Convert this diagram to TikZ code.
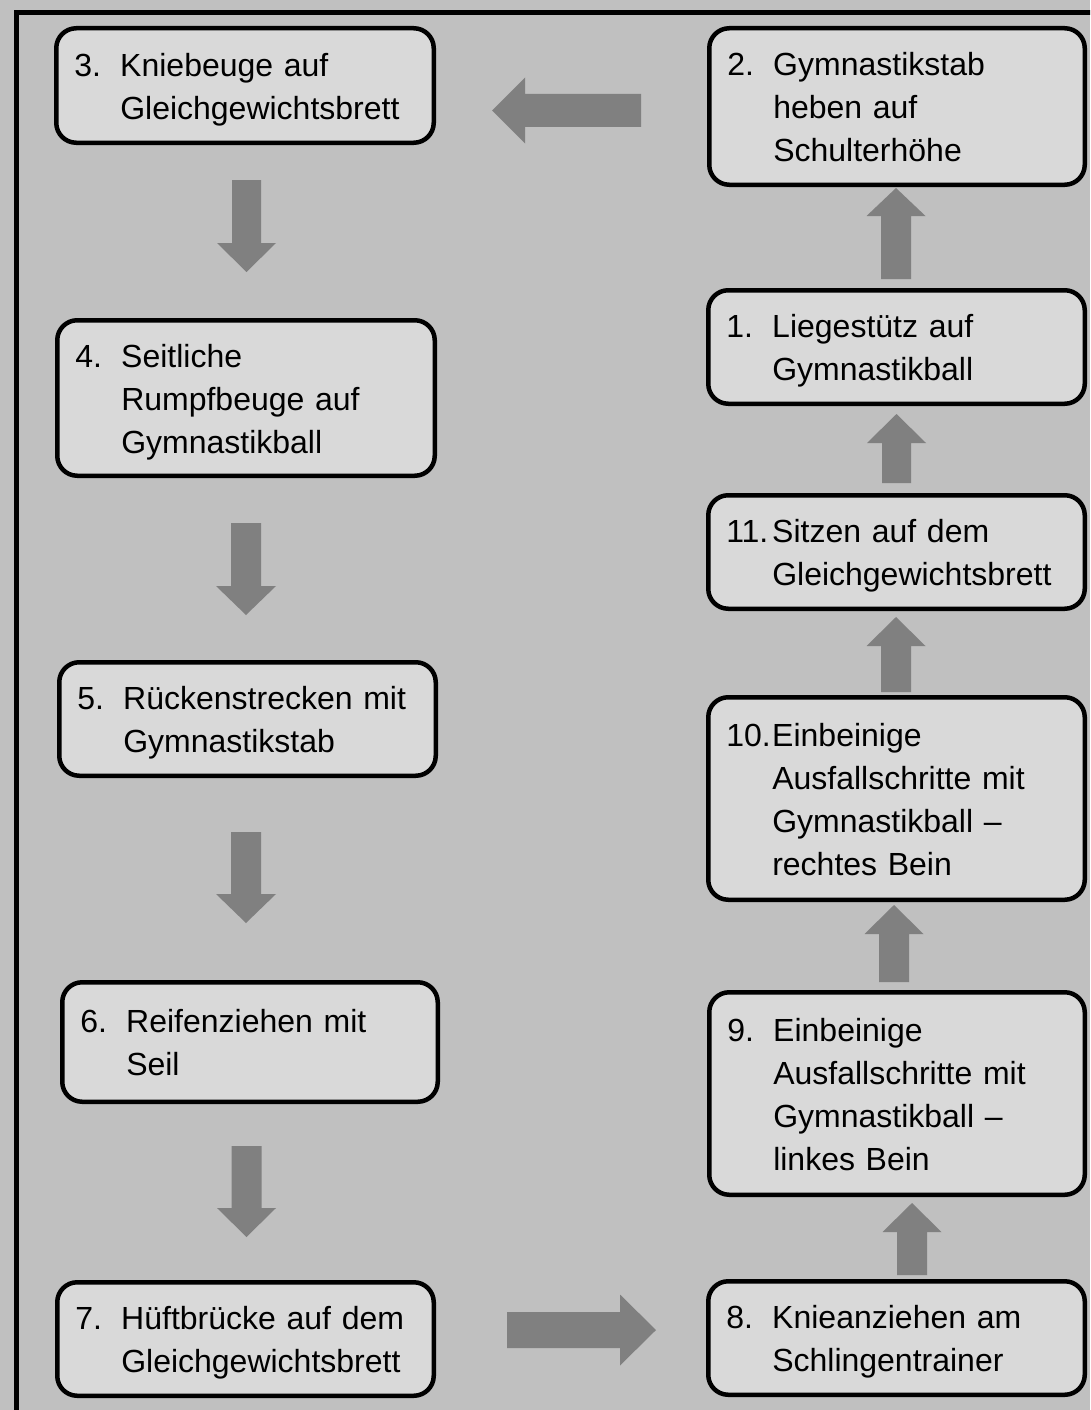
\documentclass[tikz,border=0pt]{standalone}
\usepackage{fontspec}
\setmainfont{Liberation Sans}
\definecolor{bg}{HTML}{C0C0C0}
\definecolor{boxfill}{HTML}{D9D9D9}
\definecolor{arr}{HTML}{808080}
\newcommand{\nm}[1]{\rule{0pt}{32pt}\makebox[46pt][l]{#1}}
\newcommand{\ind}{\hspace*{46pt}}
\newcommand{\ls}{\rule[-7.4pt]{0pt}{7.4pt}}
% vertical block arrow: cx, tail y, head-base y, tip y, shaft half width, head half width
\newcommand{\vbarrow}[6]{%
  \fill[arr] (#1-#5,#2) -- (#1+#5,#2) -- (#1+#5,#3) -- (#1+#6,#3) -- (#1,#4)
    -- (#1-#6,#3) -- (#1-#5,#3) -- cycle;}
% horizontal block arrow: cy, tail x, head-base x, tip x, shaft half width, head half width
\newcommand{\hbarrow}[6]{%
  \fill[arr] (#2,#1-#5) -- (#3,#1-#5) -- (#3,#1-#6) -- (#4,#1) -- (#3,#1+#6)
    -- (#3,#1+#5) -- (#2,#1+#5) -- cycle;}
\tikzset{
  stepbox/.style={draw=black, line width=4.5pt, rounded corners=20pt, fill=boxfill,
    inner xsep=18pt, inner ysep=0pt, align=left, anchor=center,
    font=\fontsize{32}{43}\selectfont}
}
\begin{document}
\begin{tikzpicture}[x=1pt,y=-1pt]
\useasboundingbox (0,0) rectangle (1090,1410);
\fill[bg] (0,0) rectangle (1090,1410);
\begin{scope}
\clip (0,0) rectangle (1090,1410);
\draw[line width=5pt] (16.5,12.5) rectangle (1120,1440);
\end{scope}

% left column
\node[stepbox, minimum width=377.5pt, minimum height=114.5pt, text width=341.5pt] (b3) at (245,85.5)
  {\nm{3.}Kniebeuge auf\\\ind Gleichgewichtsbrett\ls};
\node[stepbox, minimum width=377.5pt, minimum height=155.5pt, text width=341.5pt] (b4) at (246,398)
  {\nm{4.}Seitliche\\\ind Rumpfbeuge auf\\\ind Gymnastikball\ls};
\node[stepbox, minimum width=376.5pt, minimum height=113.5pt, text width=340.5pt] (b5) at (247.5,719)
  {\nm{5.}Rückenstrecken mit\\\ind Gymnastikstab\ls};
\node[stepbox, minimum width=375.5pt, minimum height=119.5pt, text width=339.5pt] (b6) at (250,1042)
  {\nm{6.}Reifenziehen mit\\\ind Seil\ls};
\node[stepbox, minimum width=376.5pt, minimum height=113.5pt, text width=340.5pt] (b7) at (245.5,1339)
  {\nm{7.}Hüftbrücke auf dem\\\ind Gleichgewichtsbrett\ls};

% right column
\node[stepbox, minimum width=375.5pt, minimum height=156.5pt, text width=339.5pt] (b2) at (897,106.5)
  {\nm{2.}Gymnastikstab\\\ind heben auf\\\ind Schulterhöhe\ls};
\node[stepbox, minimum width=376.5pt, minimum height=113.5pt, text width=340.5pt] (b1) at (896.5,347)
  {\nm{1.}Liegestütz auf\\\ind Gymnastikball\ls};
\node[stepbox, minimum width=376.5pt, minimum height=113.5pt, text width=340.5pt] (b11) at (896.5,552)
  {\nm{11.}Sitzen auf dem\\\ind Gleichgewichtsbrett\ls};
\node[stepbox, minimum width=376.5pt, minimum height=202.5pt, text width=340.5pt] (b10) at (896.5,798.5)
  {\nm{10.}Einbeinige\\\ind Ausfallschritte mit\\\ind Gymnastikball –\\\ind rechtes Bein\ls};
\node[stepbox, minimum width=375.5pt, minimum height=202.5pt, text width=339.5pt] (b9) at (897,1093.5)
  {\nm{9.}Einbeinige\\\ind Ausfallschritte mit\\\ind Gymnastikball –\\\ind linkes Bein\ls};
\node[stepbox, minimum width=376.5pt, minimum height=113.5pt, text width=340.5pt] (b8) at (896.5,1338)
  {\nm{8.}Knieanziehen am\\\ind Schlingentrainer\ls};

% block arrows
\hbarrow{110.5}{641}{525}{492}{16.5}{33}
\vbarrow{246.5}{180}{243}{272}{14.5}{29.5}
\vbarrow{246}{523}{586}{615}{15}{30}
\vbarrow{246}{832}{894}{923}{15}{30}
\vbarrow{246.5}{1146}{1208}{1237}{15}{29.5}
\hbarrow{1330}{507}{620}{656}{18}{35.5}
\vbarrow{912}{1275}{1232}{1203}{15}{29.5}
\vbarrow{894}{982}{934}{905}{15}{29.5}
\vbarrow{896}{692}{646}{617}{15}{29.5}
\vbarrow{896.5}{483}{443}{414}{14.5}{29.5}
\vbarrow{896}{279}{216}{188}{15}{29.5}
\end{tikzpicture}
\end{document}
